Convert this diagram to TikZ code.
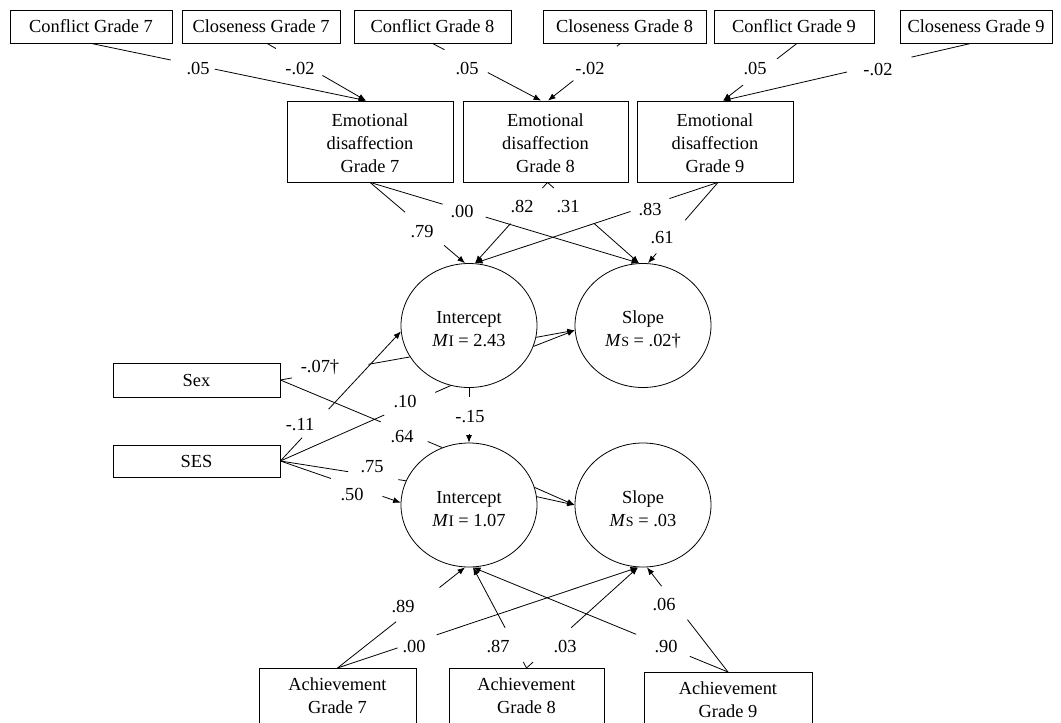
\documentclass[tikz,border=0pt]{standalone}
\usepackage{fontspec}
\setmainfont{Liberation Serif}
\usetikzlibrary{calc,arrows.meta,shapes.geometric}
\tikzset{
  every node/.style={font=\fontsize{18.4}{23}\selectfont},
  box/.style={draw, line width=0.8pt, inner sep=0pt, align=center},
  lat/.style={draw, ellipse, line width=0.8pt, minimum width=136, minimum height=124, inner sep=0pt, align=center},
  lab/.style={inner sep=1pt},
  conn/.style={line width=0.8pt},
  arr/.style={line width=0.8pt, -{Latex[length=7.5pt,width=6pt]}},
}
\newcommand\gapped[5]{\draw[#1] (#2) -- ($(#2)!#4!(#3)$) ($(#2)!#5!(#3)$) -- (#3);}
\newcommand\subI{{\fontsize{16}{16}\selectfont I}}
\newcommand\subS{{\fontsize{14}{14}\selectfont S}}
\newcommand\twolines[2]{\raisebox{-5pt}[\height][\depth]{\begin{tabular}{@{}c@{}}#1\\#2\end{tabular}}}
\newcommand\threelines[3]{\raisebox{-3pt}[\height][\depth]{\begin{tabular}{@{}c@{}}#1\\#2\\#3\end{tabular}}}
\begin{document}
\begin{tikzpicture}[x=1pt,y=-1pt]
\clip (0,0) rectangle (1061,723);
\fill[white] (0,0) rectangle (1061,723);
% top row
\node[box, minimum width=162, minimum height=33] (c7) at (91,26.5) {Conflict Grade 7};
\node[box, minimum width=158, minimum height=33] (k7) at (261,26.5) {Closeness Grade 7};
\node[box, minimum width=157, minimum height=33] (c8) at (432.5,26.5) {Conflict Grade 8};
\node[box, minimum width=163, minimum height=33] (k8) at (624.5,26.5) {Closeness Grade 8};
\node[box, minimum width=160, minimum height=33] (c9) at (794,26.5) {Conflict Grade 9};
\node[box, minimum width=152, minimum height=33] (k9) at (976,26.5) {Closeness Grade 9};
% emotional boxes
\node[box, minimum width=166, minimum height=81] (e7) at (370,141.5) {\threelines{Emotional}{disaffection}{Grade 7}};
\node[box, minimum width=165, minimum height=81] (e8) at (545.5,141.5) {\threelines{Emotional}{disaffection}{Grade 8}};
\node[box, minimum width=156, minimum height=81] (e9) at (715,141.5) {\threelines{Emotional}{disaffection}{Grade 9}};
% latent
\node[lat] (i1) at (469,325.5) {\twolines{Intercept}{\textit{M}\subI\ = 2.43}};
\node[lat] (s1) at (643,325.5) {\twolines{Slope}{\textit{M}\subS\ = .02†}};
\node[lat] (i2) at (469,505) {\twolines{Intercept}{\textit{M}\subI\ = 1.07}};
\node[lat] (s2) at (643,505) {\twolines{Slope}{\textit{M}\subS\ = .03}};
% covariates
\node[box, minimum width=167, minimum height=34] (sex) at (196.5,380) {Sex};
\node[box, minimum width=167, minimum height=32] (ses) at (196.5,461) {SES};
% achievement
\node[box, anchor=north, minimum width=157, inner ysep=9, text depth=50] (a7) at (337.5,668) {Achievement\\Grade 7};
\node[box, anchor=north, minimum width=155, inner ysep=9, text depth=50] (a8) at (526.5,668) {Achievement\\Grade 8};
\node[box, anchor=north, minimum width=168, inner ysep=9, text depth=50] (a9) at (728,672) {Achievement\\Grade 9};
% endpoints
\coordinate (e7t) at ($(e7.north)+(-4,0)$);
\coordinate (e8tl) at ($(e8.north)+(-4.5,0)$);
\coordinate (e8tr) at ($(e8.north)+(2.5,0)$);
\coordinate (e9t) at ($(e9.north)+(8,0)$);
\coordinate (k7b) at ($(k7.south)+(6,0)$);
\coordinate (k8b) at ($(k8.south)+(-4,0)$);
\coordinate (c9b) at ($(c9.south)+(3,0)$);
\coordinate (k9b) at ($(k9.south)+(-5,0)$);
\coordinate (e8b) at ($(e8.south)+(2,0)$);
\coordinate (e9b) at ($(e9.south)+(3,0)$);
\coordinate (i1tl) at ($(i1.north)+(-4,0)$);
\coordinate (i1tr) at ($(i1.north)+(6,0)$);
\coordinate (s1tl) at ($(s1.north)+(-4,0)$);
\coordinate (s1tr) at ($(s1.north)+(5,0)$);
\coordinate (i2bl) at ($(i2.south)+(-4,0)$);
\coordinate (i2br) at ($(i2.south)+(4,0)$);
\coordinate (s2bl) at ($(s2.south)+(-5,0)$);
\coordinate (s2br) at ($(s2.south)+(4,0)$);
% top row -> emotional
\gapped{arr}{c7.south}{e7t}{0.29}{0.45}
\gapped{arr}{k7b}{e7t}{0.09}{0.56}
\gapped{arr}{c8.south}{e8tl}{0.11}{0.51}
\gapped{arr}{k8b}{e8tr}{0.05}{0.65}
\gapped{arr}{c9b}{e9t}{0.27}{0.73}
\gapped{arr}{k9b}{e9t}{0.24}{0.50}
\node[lab] (l1) at (198,69) {.05};
\node[lab] (l2) at (300,69) {-.02};
\node[lab] (l3) at (467,69) {.05};
\node[lab] (l4) at (590,69) {-.02};
\node[lab] (l5) at (755,69) {.05};
\node[lab] (l6) at (878,70) {-.02};
% emotional -> latent
\gapped{arr}{e7.south}{i1tl}{0.37}{0.78}
\gapped{arr}{e7.south}{s1tl}{0.27}{0.43}
\gapped{arr}{e8b}{i1tr}{0.07}{0.51}
\gapped{arr}{e8b}{s1tl}{0.07}{0.51}
\gapped{arr}{e9b}{i1tr}{0.20}{0.36}
\gapped{arr}{e9b}{s1tr}{0.47}{0.88}
\node[lab] (l7) at (422,232) {.79};
\node[lab] (l8) at (462,212) {.00};
\node[lab] (l9) at (522,207) {.82};
\node[lab] (l10) at (568,207) {.31};
\node[lab] (l11) at (650,210) {.83};
\node[lab] (l12) at (662,238) {.61};
% covariates
\gapped{conn}{sex.east}{i1.208}{0.09}{0.68}
\gapped{conn}{sex.east}{i2.115}{0.62}{0.91}
\gapped{arr}{ses.east}{i1.185}{0.18}{0.40}
\gapped{conn}{ses.east}{i1.253}{0.61}{0.91}
\gapped{conn}{ses.east}{i2.159}{0.54}{0.94}
\gapped{arr}{ses.east}{i2.178}{0.42}{0.85}
\node[lab] (l13) at (320,367) {-.07†};
\node[lab] (l14) at (300,425) {-.11};
\node[lab] (l15) at (405,402) {.10};
\node[lab] (l16) at (402,437) {.64};
\node[lab] (l17) at (372,467) {.75};
\node[lab] (l18) at (352,495) {.50};
% latent -> latent
\gapped{arr}{i1.south}{i2.north}{0.16}{0.85}
\node[lab] (l19) at (470,417) {-.15};
\draw[arr] (i1.350) -- (s1.184);
\draw[arr] (i1.342) -- (s1.184);
\draw[arr] (i2.15) -- (s2.west);
\draw[arr] (i2.7) -- (s2.west);
% achievement -> latent
\gapped{arr}{a7.north}{i2bl}{0.46}{0.80}
\gapped{arr}{a7.north}{s2bl}{0.20}{0.33}
\gapped{arr}{a8.north}{i2br}{0.06}{0.40}
\gapped{arr}{a8.north}{s2bl}{0.06}{0.40}
\gapped{arr}{a9.north}{i2br}{0.15}{0.36}
\gapped{arr}{a9.north}{s2br}{0.50}{0.82}
\node[lab] (l20) at (403,607) {.89};
\node[lab] (l21) at (414,647) {.00};
\node[lab] (l22) at (498,647) {.87};
\node[lab] (l23) at (565,647) {.03};
\node[lab] (l24) at (666,647) {.90};
\node[lab] (l25) at (664,605) {.06};
\end{tikzpicture}
\end{document}
